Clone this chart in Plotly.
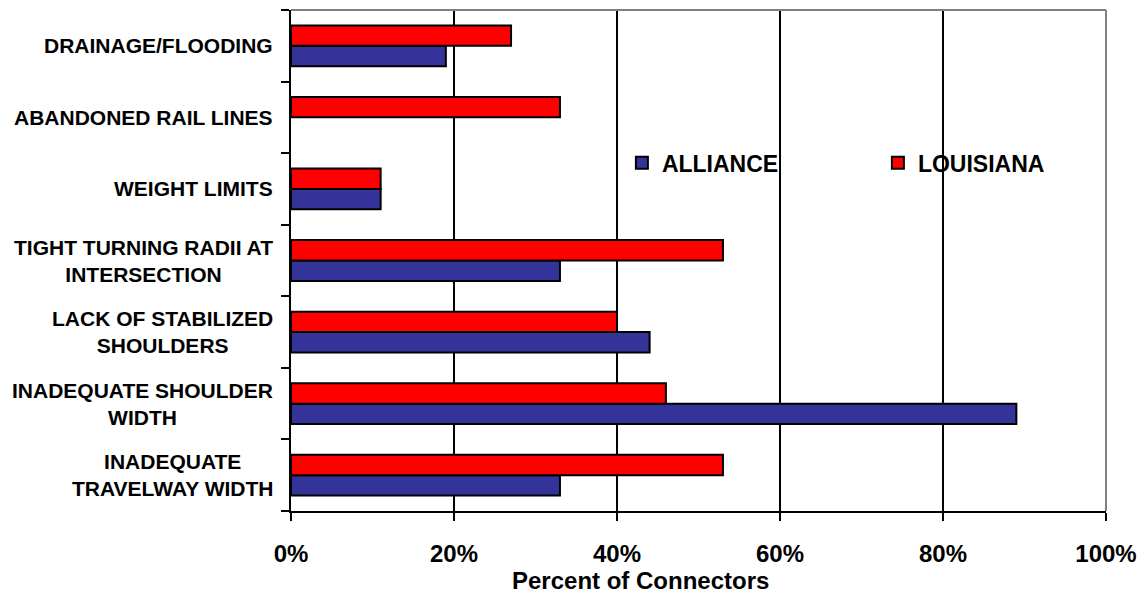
import plotly.graph_objects as go

categories = [
    "INADEQUATE<br>TRAVELWAY WIDTH",
    "INADEQUATE SHOULDER<br>WIDTH",
    "LACK OF STABILIZED<br>SHOULDERS",
    "TIGHT TURNING RADII AT<br>INTERSECTION",
    "WEIGHT LIMITS",
    "ABANDONED RAIL LINES",
    "DRAINAGE/FLOODING",
]
alliance = [33, 89, 44, 33, 11, None, 19]
louisiana = [53, 46, 40, 53, 11, 33, 27]
x_ticks = [0, 20, 40, 60, 80, 100]
x_tick_text = ["0%", "20%", "40%", "60%", "80%", "100%"]
x_title = "Percent of Connectors"

FONT = "Liberation Sans, Arial, sans-serif"

fig = go.Figure()
fig.add_trace(go.Bar(
    y=categories, x=alliance, orientation="h", name="ALLIANCE",
    marker=dict(color="#333399", line=dict(color="black", width=2)),
))
fig.add_trace(go.Bar(
    y=categories, x=louisiana, orientation="h", name="LOUISIANA",
    marker=dict(color="#FF0000", line=dict(color="black", width=2)),
))

annotations = []
for c in categories:
    annotations.append(dict(
        x=0, xref="paper", y=c, yref="y", text=c, showarrow=False,
        xanchor="right", yanchor="middle", align="center", xshift=-16,
        font=dict(family=FONT, size=21, color="black", weight="bold"),
    ))
annotations.append(dict(
    x=0.429, xref="paper", y=0, yref="paper", text=x_title, showarrow=False,
    xanchor="center", yanchor="middle", yshift=-69,
    font=dict(family=FONT, size=24, color="black", weight="bold"),
))

fig.update_layout(
    width=1143, height=594,
    margin=dict(l=291, r=37, t=10, b=83, autoexpand=False),
    paper_bgcolor="white", plot_bgcolor="white",
    barmode="group", bargap=0.43, bargroupgap=0,
    showlegend=True,
    legend=dict(
        orientation="h", x=0.406, y=0.695, xanchor="left", yanchor="middle",
        bgcolor="rgba(0,0,0,0)", entrywidth=211, entrywidthmode="pixels",
        font=dict(family=FONT, size=23, color="black", weight="bold"),
        traceorder="normal", itemsizing="constant",
    ),
    xaxis=dict(
        range=[0, 100], tickvals=x_ticks, ticktext=x_tick_text,
        showgrid=True, gridcolor="black", gridwidth=2,
        showline=True, linecolor="black", linewidth=2,
        ticks="outside", ticklen=8, tickwidth=2, tickcolor="black",
        tickfont=dict(family=FONT, size=24, color="black", weight="bold"),
        ticklabelstandoff=12, zeroline=False, fixedrange=True,
    ),
    yaxis=dict(
        showticklabels=False, tickson="boundaries",
        ticks="outside", ticklen=8, tickwidth=2, tickcolor="black",
        showline=True, linecolor="black", linewidth=2,
        showgrid=False, zeroline=False, fixedrange=True,
    ),
    annotations=annotations,
    shapes=[
        dict(type="line", xref="paper", yref="paper", x0=0, x1=1, y0=1, y1=1,
             line=dict(color="#808080", width=2), layer="above"),
        dict(type="line", xref="paper", yref="paper", x0=1, x1=1, y0=0, y1=1,
             line=dict(color="#808080", width=2), layer="above"),
    ],
)

fig.write_html("out.html")
